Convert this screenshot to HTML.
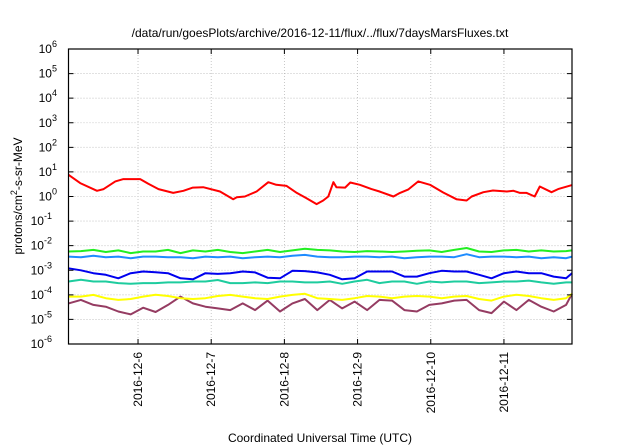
<!DOCTYPE html>
<html><head><meta charset="utf-8"><style>
body{margin:0;background:#fff;}
svg{display:block;font-family:"Liberation Sans",sans-serif;}
</style></head><body>
<svg id="chart" width="640" height="448">
<text x="320" y="37" font-size="12" text-anchor="middle">/data/run/goesPlots/archive/2016-12-11/flux/../flux/7daysMarsFluxes.txt</text>
<text x="320" y="442" font-size="12" text-anchor="middle">Coordinated Universal Time (UTC)</text>
<text transform="translate(22,196) rotate(-90)" font-size="12" text-anchor="middle">protons/cm<tspan dy="-5" font-size="9">2</tspan><tspan dy="5">-s-sr-MeV</tspan></text>
<g id="grid"></g><g id="series"></g><g id="axes"></g>
</svg>
<script>
const xTickLabels=["2016-12-6","2016-12-7","2016-12-8","2016-12-9","2016-12-10","2016-12-11"];
const xTickDays=[6,7,8,9,10,11];
const yTickExps=[-6,-5,-4,-3,-2,-1,0,1,2,3,4,5,6];
const redTimes=[5.05,5.21,5.44,5.53,5.69,5.80,6.03,6.14,6.28,6.48,6.62,6.75,6.89,7.12,7.30,7.35,7.46,7.62,7.78,7.89,8.03,8.17,8.30,8.44,8.53,8.60,8.67,8.71,8.83,8.90,9.03,9.19,9.30,9.49,9.58,9.69,9.83,9.99,10.17,10.35,10.49,10.56,10.72,10.85,11.04,11.13,11.22,11.31,11.42,11.49,11.65,11.74,11.93];
const redValues=[7.6,3.5,1.7,2.0,4.1,5.1,5.1,3.3,2.0,1.4,1.7,2.3,2.4,1.6,0.78,0.94,1.0,1.6,3.8,3.0,2.7,1.4,0.86,0.49,0.69,1.0,3.8,2.4,2.3,3.7,3.0,2.0,1.6,1.0,1.4,1.9,4.1,3.0,1.45,0.78,0.69,1.0,1.5,1.75,1.6,1.7,1.4,1.4,1.0,2.55,1.5,2.0,2.9];
const gridTimes=[5.05,5.22,5.39,5.56,5.73,5.90,6.07,6.24,6.41,6.58,6.75,6.92,7.09,7.26,7.43,7.60,7.77,7.94,8.11,8.28,8.45,8.62,8.79,8.96,9.13,9.30,9.47,9.64,9.81,9.98,10.15,10.32,10.49,10.66,10.83,11.00,11.17,11.34,11.51,11.68,11.85,11.93];
const greenValues=[5.8e-3,6.0e-3,6.7e-3,5.5e-3,6.4e-3,5.0e-3,5.8e-3,5.8e-3,6.7e-3,5.0e-3,6.4e-3,5.8e-3,6.7e-3,5.5e-3,5.0e-3,5.8e-3,6.7e-3,5.5e-3,6.4e-3,7.5e-3,6.7e-3,6.4e-3,5.8e-3,5.5e-3,6.0e-3,5.8e-3,5.5e-3,5.8e-3,6.2e-3,6.4e-3,5.5e-3,6.7e-3,8.0e-3,5.8e-3,5.5e-3,6.4e-3,6.7e-3,5.8e-3,6.4e-3,5.8e-3,6.0e-3,6.4e-3];
const lightBlueValues=[3.6e-3,3.4e-3,3.9e-3,3.4e-3,3.6e-3,3.1e-3,3.6e-3,3.6e-3,3.4e-3,3.4e-3,3.1e-3,3.6e-3,3.4e-3,3.6e-3,3.1e-3,3.4e-3,3.6e-3,3.4e-3,3.9e-3,4.2e-3,3.6e-3,3.4e-3,3.4e-3,3.6e-3,3.6e-3,3.4e-3,3.6e-3,3.1e-3,3.4e-3,3.6e-3,3.6e-3,3.4e-3,4.5e-3,3.4e-3,3.6e-3,3.6e-3,3.4e-3,3.6e-3,3.1e-3,3.4e-3,3.1e-3,3.6e-3];
const darkBlueValues=[1.2e-3,1.0e-3,7.6e-4,6.5e-4,4.7e-4,7.6e-4,8.9e-4,8.3e-4,7.6e-4,4.7e-4,4.3e-4,7.6e-4,7.1e-4,7.6e-4,8.9e-4,8.2e-4,5.0e-4,4.7e-4,9.5e-4,9.2e-4,8.2e-4,6.5e-4,4.3e-4,4.7e-4,8.9e-4,8.9e-4,8.9e-4,5.5e-4,5.5e-4,7.6e-4,9.5e-4,8.9e-4,8.9e-4,6.5e-4,4.7e-4,7.6e-4,8.9e-4,7.6e-4,7.6e-4,5.5e-4,4.7e-4,7.6e-4];
const tealValues=[3.5e-4,4.1e-4,3.5e-4,3.5e-4,3.0e-4,2.8e-4,3.0e-4,3.0e-4,3.2e-4,3.2e-4,3.5e-4,3.5e-4,4.0e-4,3.0e-4,3.0e-4,3.2e-4,3.0e-4,3.5e-4,3.5e-4,3.2e-4,3.2e-4,3.5e-4,2.8e-4,3.5e-4,4.1e-4,3.0e-4,3.5e-4,3.5e-4,2.8e-4,3.5e-4,3.2e-4,3.5e-4,3.5e-4,3.0e-4,3.2e-4,3.5e-4,3.5e-4,3.8e-4,3.2e-4,2.8e-4,3.2e-4,3.2e-4];
const yellowValues=[8.5e-5,8.5e-5,9.9e-5,7.3e-5,6.2e-5,6.8e-5,8.5e-5,1.0e-4,9.0e-5,7.3e-5,6.8e-5,7.3e-5,9.0e-5,9.9e-5,8.5e-5,7.3e-5,6.8e-5,8.5e-5,9.9e-5,1.1e-4,7.3e-5,6.8e-5,6.2e-5,7.3e-5,9.0e-5,8.5e-5,7.3e-5,8.5e-5,9.0e-5,8.5e-5,7.3e-5,8.5e-5,9.0e-5,6.8e-5,5.8e-5,8.5e-5,1.0e-4,9.0e-5,7.3e-5,6.2e-5,7.3e-5,1.1e-4];
const purpleValues=[4.5e-5,6.2e-5,3.9e-5,3.3e-5,2.1e-5,1.6e-5,3.0e-5,2.0e-5,3.9e-5,8.5e-5,4.5e-5,3.3e-5,2.8e-5,2.4e-5,4.5e-5,2.4e-5,5.8e-5,2.1e-5,4.5e-5,6.8e-5,2.4e-5,6.2e-5,2.8e-5,5.3e-5,2.4e-5,6.2e-5,5.8e-5,2.4e-5,2.1e-5,3.9e-5,4.5e-5,5.8e-5,6.2e-5,2.4e-5,1.8e-5,5.3e-5,2.4e-5,6.2e-5,3.3e-5,2.1e-5,3.9e-5,1.1e-4];

const L=68.5,R=572,T=49,B=344,t0=5.05,t1=11.93;
const NS="http://www.w3.org/2000/svg";
function X(t){return L+(t-t0)/(t1-t0)*(R-L);}
function Y(v){return B-(Math.log10(v)+6)/12*(B-T);}
function mk(tag,attrs,parent){const e=document.createElementNS(NS,tag);for(const k in attrs)e.setAttribute(k,attrs[k]);parent.appendChild(e);return e;}
const grid=document.getElementById('grid'),axes=document.getElementById('axes'),ser=document.getElementById('series');
yTickExps.forEach(e=>{
  const y=Y(Math.pow(10,e));
  if(e>-6&&e<6){const g=mk('line',{x1:L,x2:R,y1:y,y2:y,stroke:'#bbb','stroke-dasharray':'1,2','stroke-width':0.8},grid);
  
  }
  const tk=mk('path',{d:`M${L},${y}h5M${R},${y}h-5`,stroke:'#000','stroke-width':1},axes);
  
  
  const tx=mk('text',{x:57,y:y+4,'font-size':12,'text-anchor':'end'},axes);
  
  
  tx.textContent='10';
  const sp=mk('tspan',{dy:-6,'font-size':9,x:null},tx);sp.removeAttribute('x');
  sp.textContent=String(e);
  tx.setAttribute('x',62-(String(e).length*5)-0);
});
xTickDays.forEach((d,i)=>{
  const x=X(d);
  const g=mk('line',{x1:x,x2:x,y1:T,y2:B,stroke:'#bbb','stroke-dasharray':'1,2','stroke-width':0.8},grid);
  
  
  const tk=mk('path',{d:`M${x},${B}v-5M${x},${T}v5`,stroke:'#000','stroke-width':1},axes);
  
  
  const tx=mk('text',{transform:`translate(${x+4},352) rotate(-90)`,'font-size':12,'text-anchor':'end'},axes);
  
  
  tx.textContent=xTickLabels[i];
});
const box=mk('rect',{x:L,y:T,width:R-L,height:B-T,fill:'none',stroke:'#000','stroke-width':1.2},axes);


function line(times,vals,color,name){
  const d=vals.map((v,i)=>(i?'L':'M')+X(times[i]).toFixed(1)+','+Y(v).toFixed(1)).join('');
  const p=mk('path',{d:d,fill:'none',stroke:color,'stroke-width':2,'stroke-linejoin':'round'},ser);
  
  
}
line(gridTimes,purpleValues,'#953c62','series-purple');
line(gridTimes,yellowValues,'#ffff00','series-yellow');
line(gridTimes,tealValues,'#1ecc9e','series-teal');
line(gridTimes,darkBlueValues,'#0000ee','series-dark-blue');
line(gridTimes,lightBlueValues,'#1e8cff','series-light-blue');
line(gridTimes,greenValues,'#22ee22','series-green');
line(redTimes,redValues,'#ff0000','series-red');
</script>
</body></html>
